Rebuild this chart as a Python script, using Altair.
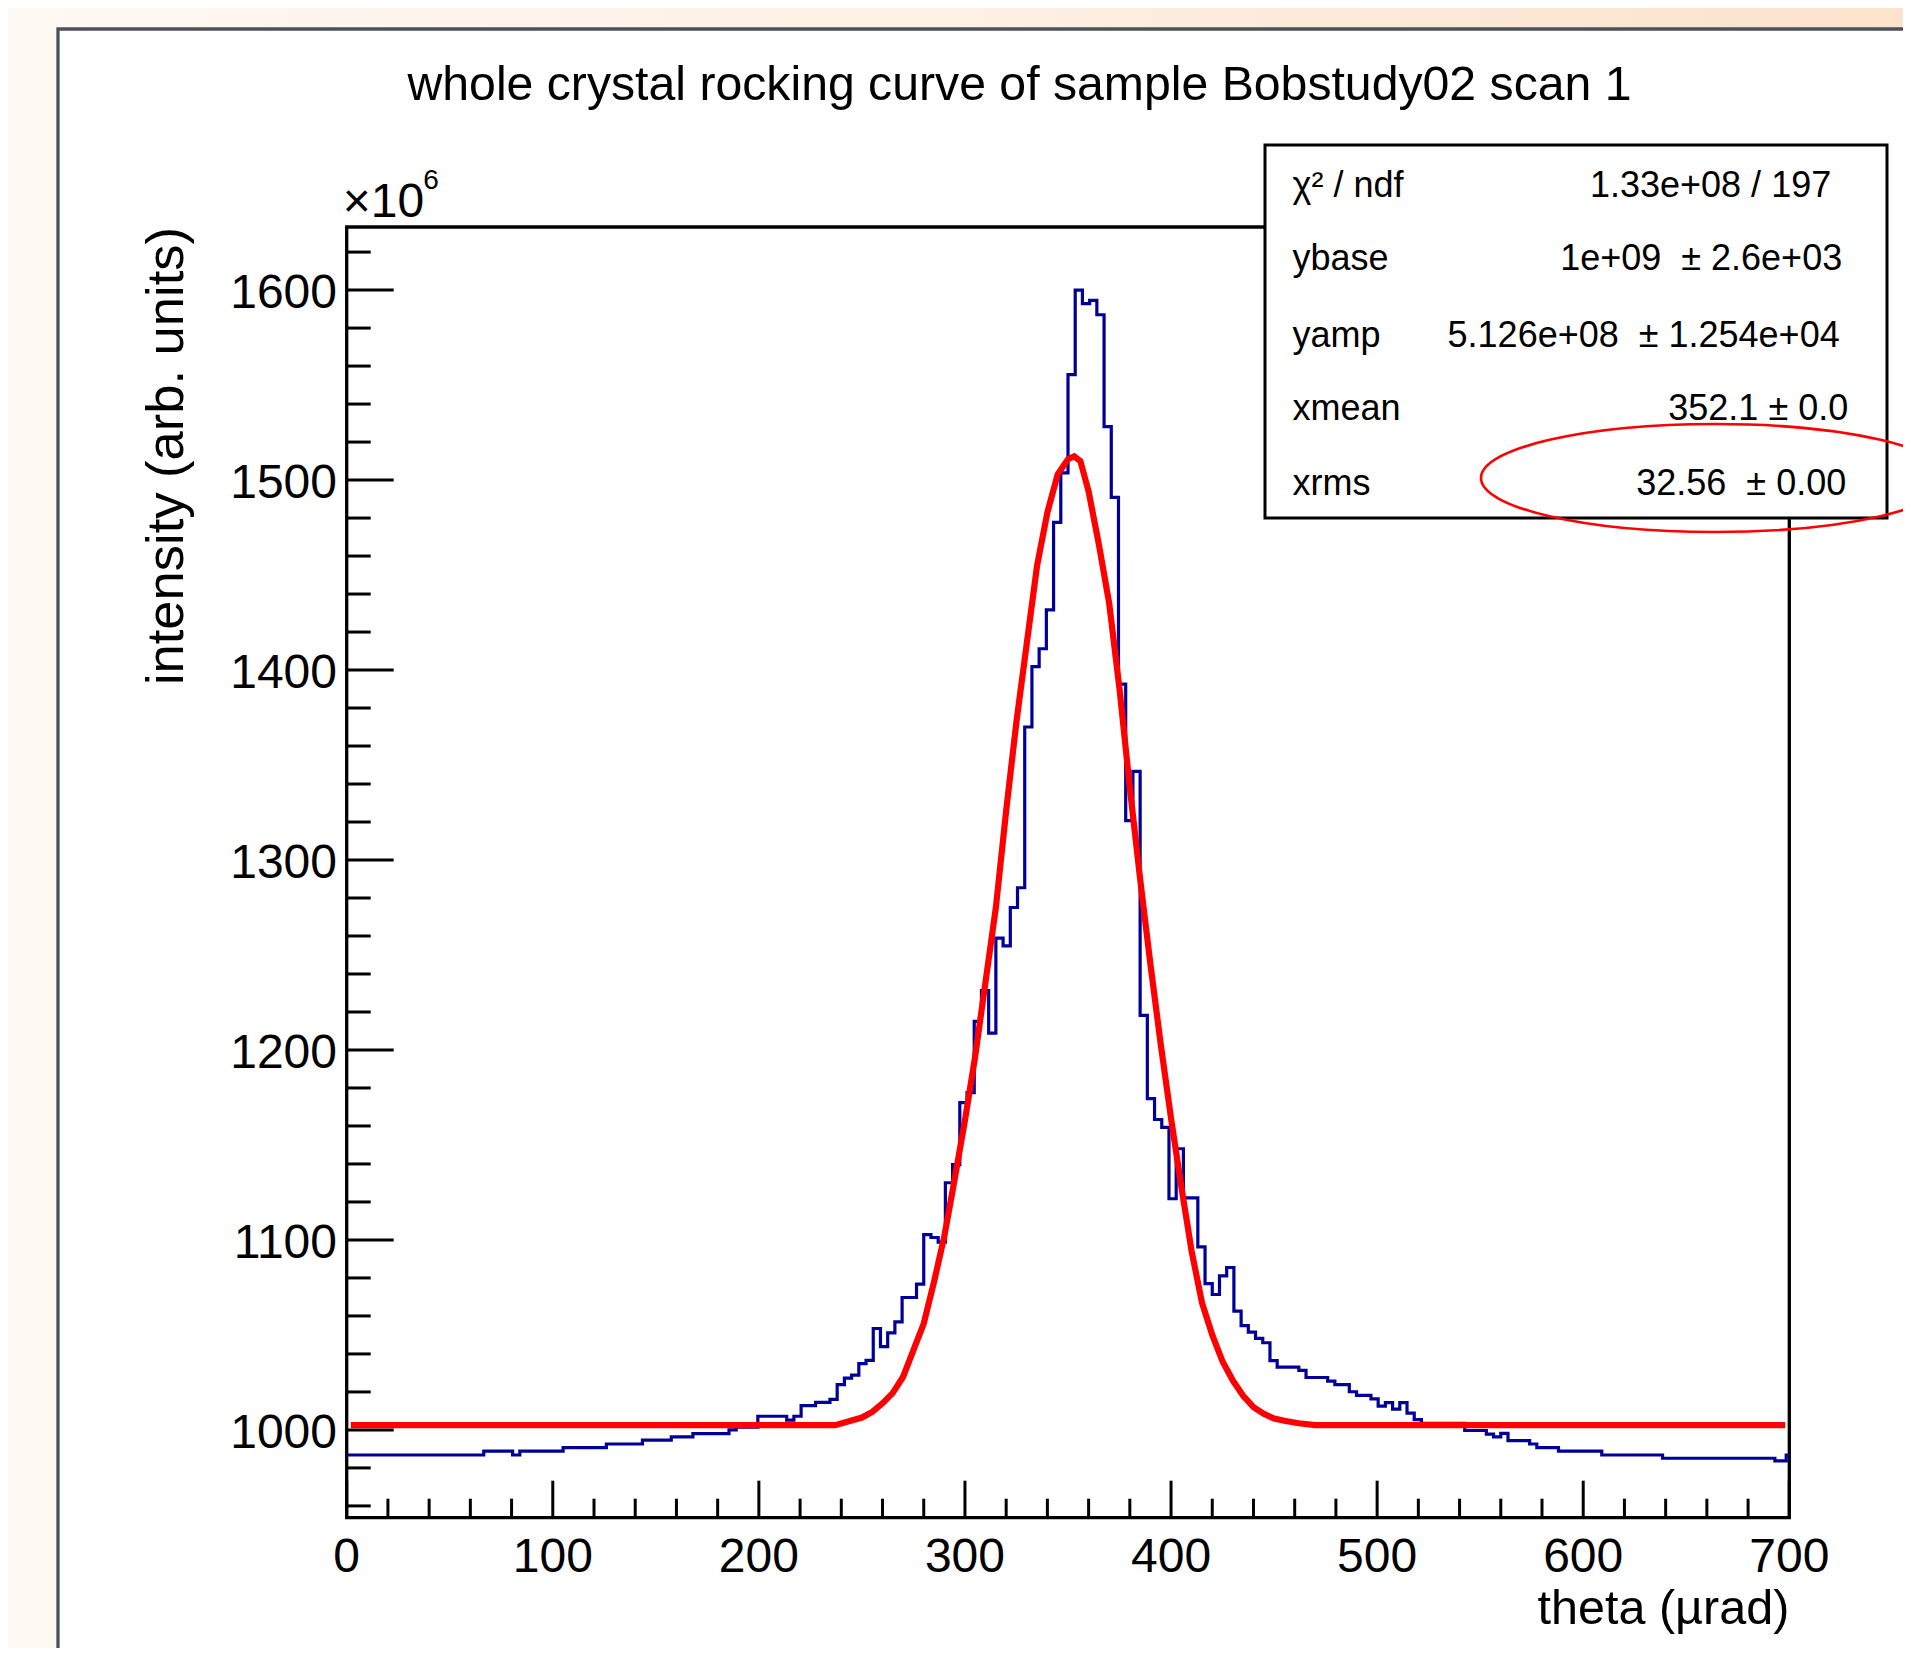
import altair as alt
import pandas as pd

# ---------------- text ----------------
title_text = "whole crystal rocking curve of sample Bobstudy02 scan 1"
x_title = "theta (µrad)"
y_title = "intensity (arb. units)"
exp_base = "×10"
exp_power = "6"
stats_labels = ["χ² / ndf", "ybase", "yamp", "xmean", "xrms"]
stats_values = ["1.33e+08 / 197", "1e+09\u00a0\u00a0± 2.6e+03", "5.126e+08\u00a0\u00a0± 1.254e+04",
                "352.1\u00a0± 0.0", "32.56\u00a0\u00a0± 0.00"]

# ---------------- axes ----------------
x_domain = [0, 700]
y_domain = [953.8, 1633.2]
x_label_values = [0, 100, 200, 300, 400, 500, 600, 700]
y_label_values = [1000, 1100, 1200, 1300, 1400, 1500, 1600]
x_minor_ticks = [v for v in range(0, 701, 20) if v % 100 != 0]
y_minor_ticks = [v for v in range(960, 1621, 20) if v % 100 != 0]

# ---------------- histogram (units of 1e6), step bins ----------------
bin_start = [0, 66.5, 80.5, 84, 105, 126, 143.5, 157.5, 168, 185.5,
             189, 199.5, 213.5, 217, 220.5, 227.5, 234.5, 238, 241.5, 245,
             248.5, 252, 255.5, 259, 262.5, 266, 269.5, 276.5, 280, 283.5,
             287, 290.5, 294, 297.5, 301, 304.5, 308, 311.5, 315, 318.5,
             322, 325.5, 329, 332.5, 336, 339.5, 343, 346.5, 350, 353.5,
             357, 360.5, 364, 367.5, 371, 374.5, 378, 381.5, 385, 388.5,
             392, 395.5, 399, 402.5, 406, 413, 416.5, 420, 423.5, 427,
             430.5, 434, 437.5, 441, 444.5, 448, 451.5, 462, 465.5, 476,
             479.5, 486.5, 490, 497, 500.5, 504, 507.5, 511, 514.5, 518,
             521.5, 542.5, 553, 556.5, 560, 563.5, 574, 577.5, 588, 609,
             638.5, 693, 698.5]
bin_value = [986.8, 988.8, 986.8, 988.8, 990.7, 992.6, 994.6, 996.3, 998.1, 1000.0,
             1001.5, 1007.2, 1005.2, 1007.2, 1012.8, 1014.5, 1016.1, 1023.8, 1027.3, 1028.9,
             1034.9, 1036.6, 1053.4, 1043.8, 1051.1, 1056.9, 1069.7, 1076.7, 1102.8, 1101.3,
             1098.9, 1130.1, 1139.6, 1172.3, 1177.5, 1215.1, 1231.2, 1208.9, 1258.9, 1254.8,
             1275.0, 1285.4, 1370.0, 1401.8, 1411.2, 1431.7, 1477.7, 1503.8, 1555.5, 1600.0,
             1592.9, 1594.6, 1587.0, 1528.1, 1490.9, 1392.6, 1320.7, 1346.6, 1218.2, 1174.4,
             1163.4, 1159.3, 1121.7, 1148.0, 1122.2, 1096.4, 1077.0, 1071.3, 1081.1, 1085.5,
             1062.5, 1054.9, 1051.5, 1048.2, 1045.9, 1036.5, 1033.1, 1031.4, 1027.6, 1025.7,
             1023.8, 1020.1, 1018.2, 1016.3, 1012.5, 1014.4, 1011.0, 1014.4, 1008.8, 1005.4,
             1003.5, 999.7, 997.8, 996.3, 998.2, 994.4, 992.6, 990.7, 988.8, 986.8,
             985.1, 983.7, 986.8]
bin_end_last = 700
assert len(bin_start) == len(bin_value)

# ---------------- fitted curve ----------------
fit_x = [2, 237, 245, 250, 255, 260, 265, 270, 275, 280, 285, 290, 295, 300, 305,
         310, 315, 320, 325, 330, 335, 340, 345, 350, 353, 356, 360, 365, 370, 375,
         380, 385, 390, 395, 400, 405, 410, 415, 420, 425, 430, 435, 440, 445, 450,
         455, 462, 470, 698]
fit_y = [1002.5, 1002.5, 1005, 1006.5, 1009.5, 1014, 1019.5, 1028, 1042, 1056, 1078, 1102, 1132, 1163, 1197,
         1236, 1275, 1326, 1373, 1414, 1455, 1483, 1503, 1511, 1512.5, 1510, 1494, 1466, 1435, 1390,
         1338, 1290, 1245, 1203, 1164, 1128, 1094, 1067, 1050, 1036, 1026, 1018, 1012, 1008.5, 1006,
         1004.8, 1003.5, 1002.5, 1002.5]

# ---------------- layout ----------------
W, H = 1442.6, 1290.7
PAD_L, PAD_T = 338.7, 219.0
PAD_R = 1895 - PAD_L - W
PAD_B = 1640 - PAD_T - H
FONT = "Liberation Sans"

hist_df = pd.DataFrame({"x": bin_start + [bin_end_last], "y": bin_value + [bin_value[-1]]})
fit_df = pd.DataFrame({"x": fit_x, "y": fit_y})
one = pd.DataFrame({"a": [0]})

xs = alt.Scale(domain=x_domain, nice=False, zero=False)
ys = alt.Scale(domain=y_domain, nice=False, zero=False)

bg_grad = alt.LinearGradient(gradient="linear",
                             stops=[alt.GradientStop(color="#fff8f3", offset=0),
                                    alt.GradientStop(color="#fdf0e4", offset=0.5),
                                    alt.GradientStop(color="#fbe2cb", offset=1)],
                             x1=0, x2=1, y1=0, y2=0)

background = alt.Chart(one).mark_rect(fill=bg_grad).encode(
    x=alt.value(-PAD_L - 5), x2=alt.value(W + PAD_R + 5),
    y=alt.value(-PAD_T - 5), y2=alt.value(H + PAD_B + 5))

pad = alt.Chart(one).mark_rect(fill="white", stroke="#4b5259", strokeWidth=3.3).encode(
    x=alt.value(-288.7), x2=alt.value(W + PAD_R + 20),
    y=alt.value(-198), y2=alt.value(H + PAD_B + 20))

frame = alt.Chart(one).mark_rect(fill="white", stroke="black", strokeWidth=3.3).encode(
    x=alt.value(0), x2=alt.value(W), y=alt.value(0), y2=alt.value(H))

tick_style = dict(color="black", strokeWidth=3)
y_major = alt.Chart(pd.DataFrame({"y": y_label_values})).mark_rule(**tick_style).encode(
    y=alt.Y("y:Q", scale=ys, axis=None), x=alt.value(0), x2=alt.value(47))
y_minor = alt.Chart(pd.DataFrame({"y": y_minor_ticks})).mark_rule(**tick_style).encode(
    y=alt.Y("y:Q", scale=ys, axis=None), x=alt.value(0), x2=alt.value(24))
x_major = alt.Chart(pd.DataFrame({"x": x_label_values})).mark_rule(**tick_style).encode(
    x=alt.X("x:Q", scale=xs, axis=None), y=alt.value(H), y2=alt.value(H - 37))
x_minor = alt.Chart(pd.DataFrame({"x": x_minor_ticks})).mark_rule(**tick_style).encode(
    x=alt.X("x:Q", scale=xs, axis=None), y=alt.value(H), y2=alt.value(H - 19))

# tick labels, placed through the scales
x_labels = alt.Chart(pd.DataFrame({"x": x_label_values})).mark_text(
    align="center", baseline="alphabetic", font=FONT, fontSize=48, color="black").encode(
    x=alt.X("x:Q", scale=xs, axis=None), y=alt.value(1344.6), text=alt.Text("x:Q", format="d"))
y_labels = alt.Chart(pd.DataFrame({"y": y_label_values})).mark_text(
    align="right", baseline="alphabetic", font=FONT, fontSize=48, color="black", dy=18).encode(
    y=alt.Y("y:Q", scale=ys, axis=None), x=alt.value(-9.7), text=alt.Text("y:Q", format="d"))

x_title_mark = alt.Chart(one).mark_text(align="right", baseline="alphabetic", font=FONT,
                                        fontSize=48.5, color="black").encode(
    x=alt.value(W), y=alt.value(1397.3), text=alt.value(x_title))
y_title_mark = alt.Chart(one).mark_text(align="right", baseline="alphabetic", font=FONT,
                                        fontSize=52.5, color="black", angle=270).encode(
    x=alt.value(-163.7), y=alt.value(0), text=alt.value(y_title))

hist = alt.Chart(hist_df).mark_line(interpolate="step-after", color="#000099", strokeWidth=3.2).encode(
    x=alt.X("x:Q", scale=xs, axis=None),
    y=alt.Y("y:Q", scale=ys, axis=None),
    order=alt.Order("x:Q"))

fit = alt.Chart(fit_df).mark_line(color="#ff0000", strokeWidth=6.2).encode(
    x=alt.X("x:Q", scale=xs, axis=None),
    y=alt.Y("y:Q", scale=ys, axis=None),
    order=alt.Order("x:Q"))

stats_box = alt.Chart(one).mark_rect(fill="white", stroke="black", strokeWidth=3).encode(
    x=alt.value(918.3), x2=alt.value(1540.3), y=alt.value(-82), y2=alt.value(291))

row_baselines = [-30.3, 43.0, 119.7, 193.0, 268.0]
value_right = [1484.5, 1495.5, 1493.0, 1501.5, 1499.5]
stats_layers = []
for lab, val, yb, xr in zip(stats_labels, stats_values, row_baselines, value_right):
    stats_layers.append(alt.Chart(one).mark_text(align="left", baseline="alphabetic", font=FONT,
                                                 fontSize=36, color="black").encode(
        x=alt.value(945.8), y=alt.value(yb), text=alt.value(lab)))
    stats_layers.append(alt.Chart(one).mark_text(align="right", baseline="alphabetic", font=FONT,
                                                 fontSize=36, color="black").encode(
        x=alt.value(xr), y=alt.value(yb), text=alt.value(val)))

ellipse_path = ("M -1 0 C -1 -0.1275 -0.5523 -0.2308 0 -0.2308 C 0.5523 -0.2308 1 -0.1275 1 0 "
                "C 1 0.1275 0.5523 0.2308 0 0.2308 C -0.5523 0.2308 -1 0.1275 -1 0 Z")
ellipse = alt.Chart(one).mark_point(shape=ellipse_path, filled=False, color="#ff0000",
                                    strokeWidth=2.6, opacity=1, size=468 * 468).encode(
    x=alt.value(1368.3), y=alt.value(251))

title = alt.Chart(one).mark_text(align="center", baseline="alphabetic", font=FONT, fontSize=48.2,
                                 color="black").encode(
    x=alt.value(672.8), y=alt.value(-127), text=alt.value(title_text))
exp1 = alt.Chart(one).mark_text(align="left", baseline="alphabetic", font=FONT, fontSize=48,
                                color="black").encode(
    x=alt.value(-4), y=alt.value(-10.3), text=alt.value(exp_base))
exp2 = alt.Chart(one).mark_text(align="left", baseline="alphabetic", font=FONT, fontSize=28,
                                color="black").encode(
    x=alt.value(76.5), y=alt.value(-37.7), text=alt.value(exp_power))

chart = alt.layer(
    background, pad, frame, y_minor, y_major, x_minor, x_major, hist, fit, stats_box,
    *stats_layers, ellipse, title, exp1, exp2, x_labels, y_labels, x_title_mark, y_title_mark
).properties(
    width=W, height=H,
    padding={"left": PAD_L, "top": PAD_T, "right": PAD_R, "bottom": PAD_B},
    autosize=alt.AutoSizeParams(type="none"),
    background="#fdf3ea",
).configure_view(stroke=None)

chart.save("out.html", embed_options={"renderer": "svg", "actions": False})
